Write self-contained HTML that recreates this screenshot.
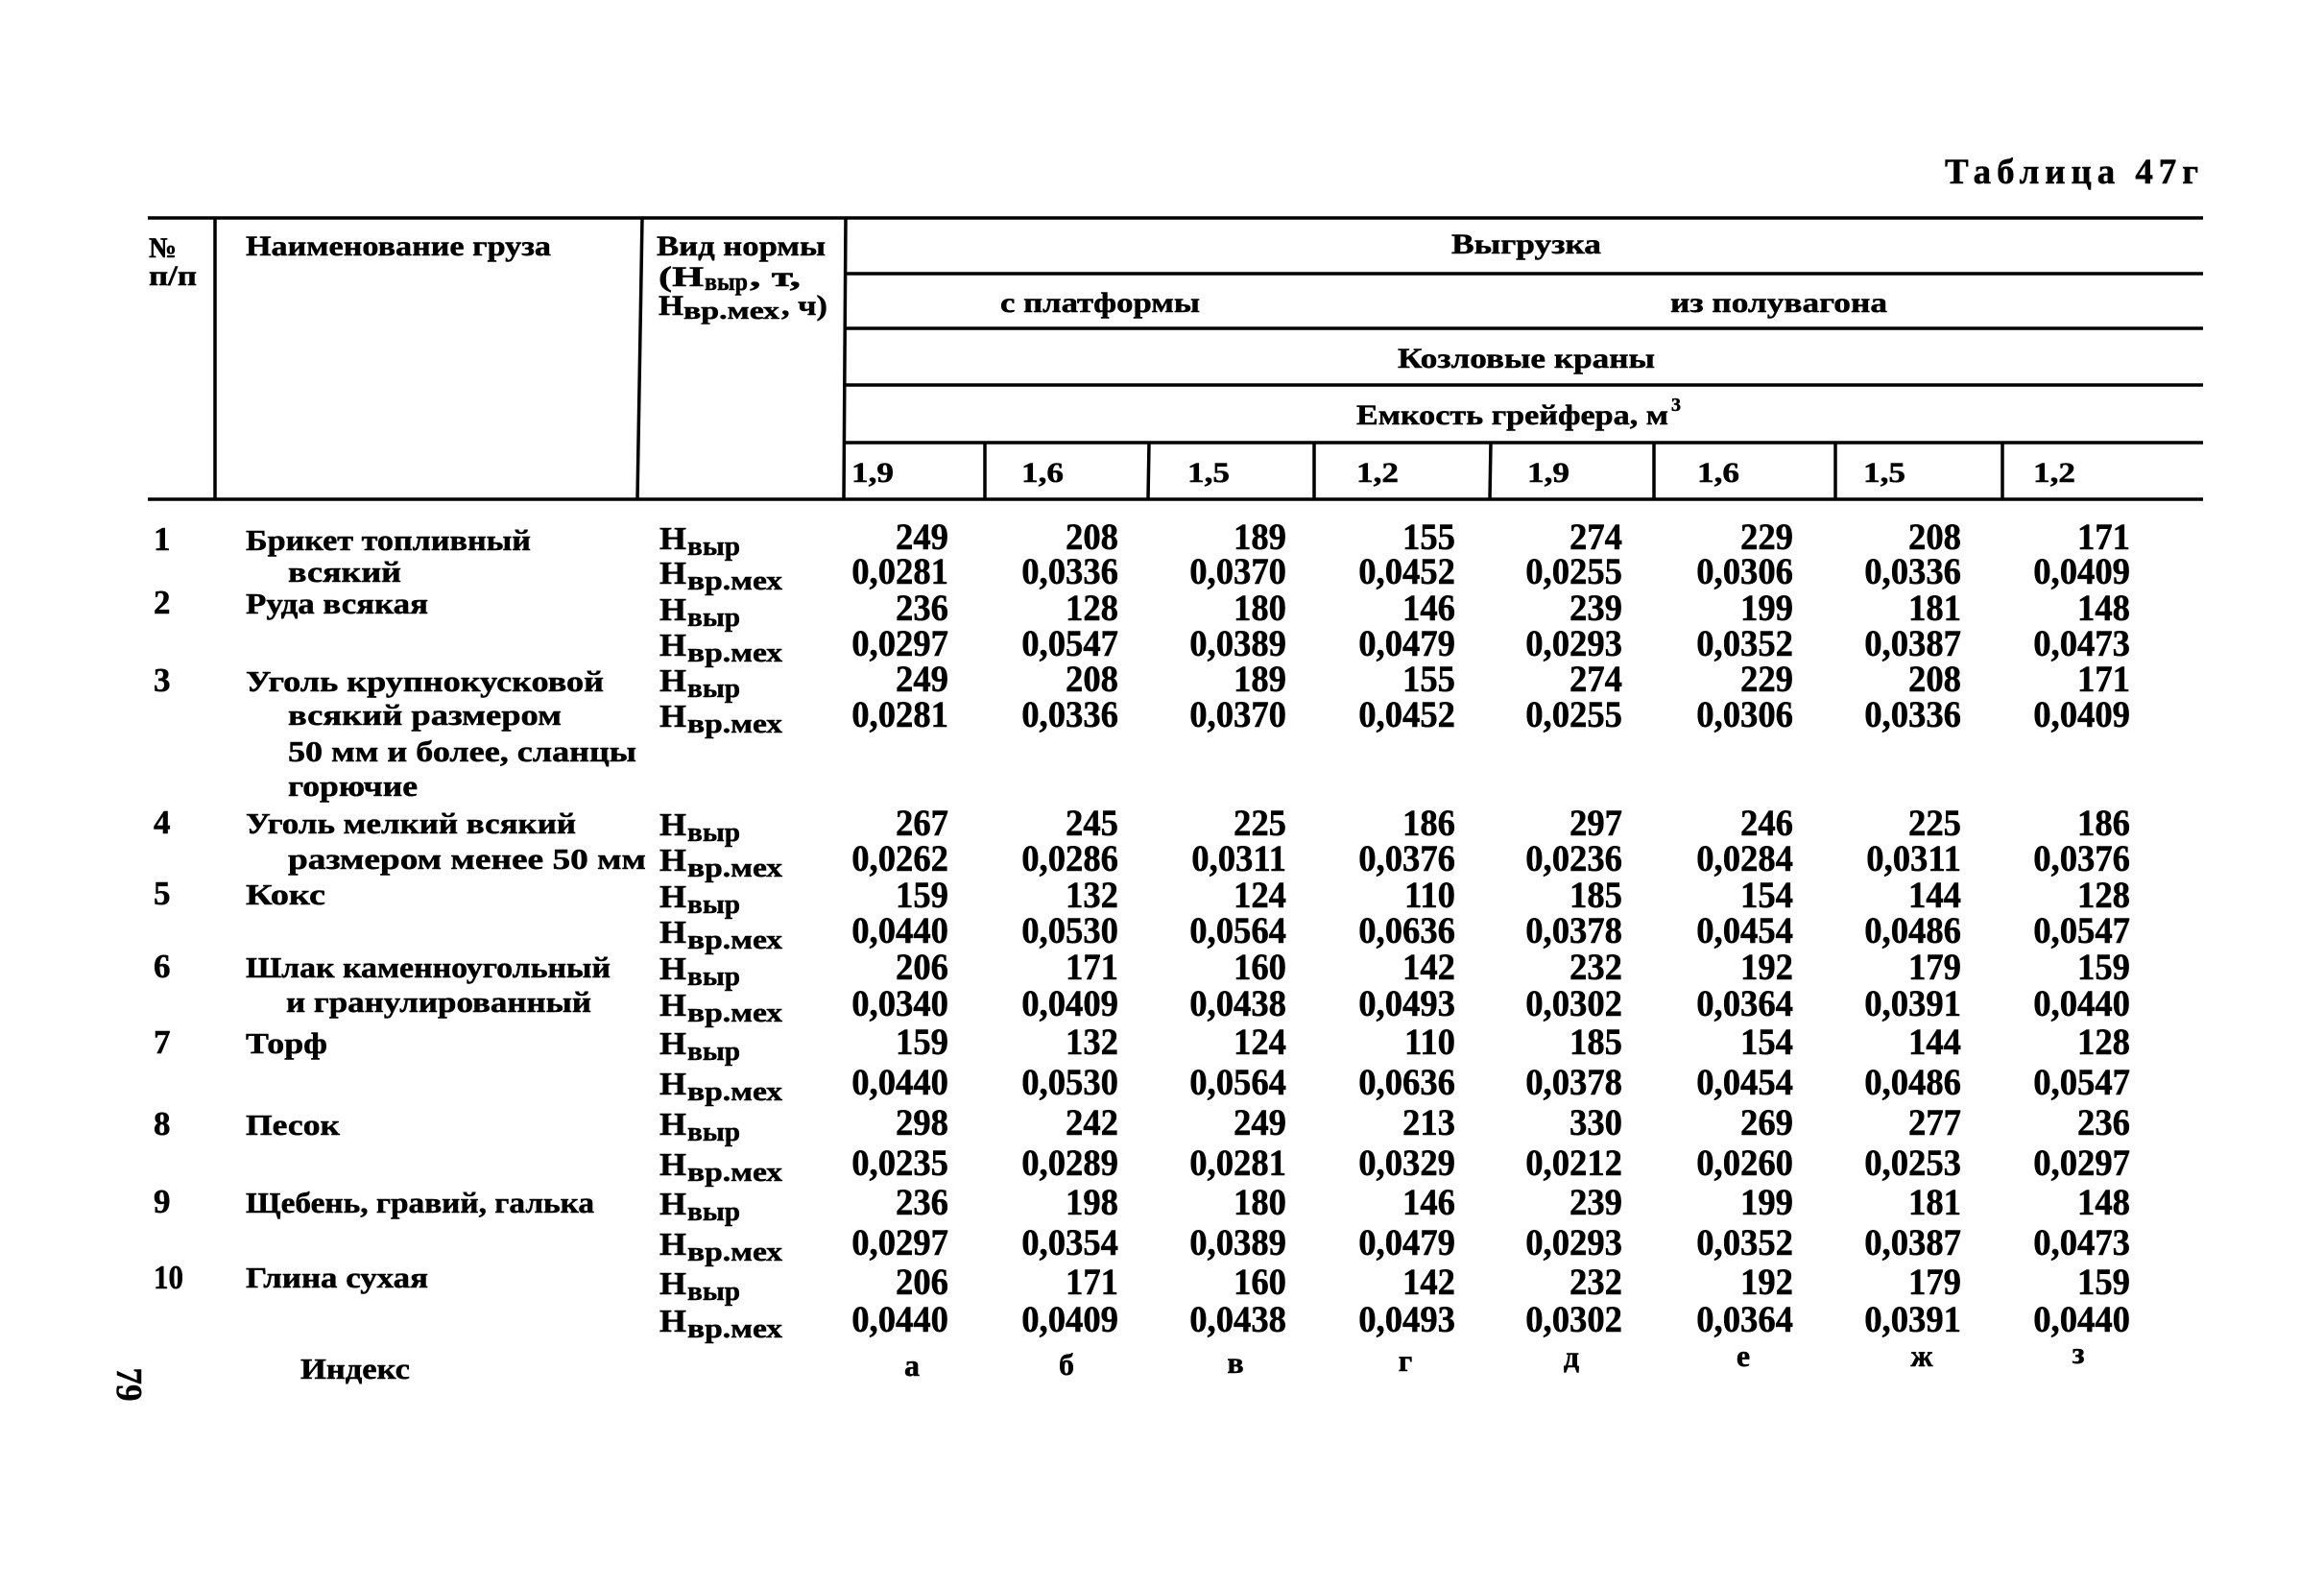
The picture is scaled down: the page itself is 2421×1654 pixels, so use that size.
<!DOCTYPE html>
<html>
<head>
<meta charset="utf-8">
<style>
  html,body{margin:0;padding:0;background:#fff;}
  svg{display:block;}
  text{font-family:"Liberation Serif","DejaVu Serif",serif;font-weight:bold;fill:#000;stroke:#000;stroke-width:0.5px;}
  .v{font-size:39px;text-anchor:end;}
  .n{font-size:31px;}
  .rn{font-size:35px;}
  .h{font-size:30px;}
  .H{font-size:34px;}
  .s{font-size:29px;}
  .ix{font-size:32px;text-anchor:middle;}
</style>
</head>
<body>
<svg width="2421" height="1654" viewBox="0 0 2421 1654" xmlns="http://www.w3.org/2000/svg">
<rect x="0" y="0" width="2421" height="1654" fill="#fff"/>

<!-- Title -->
<text x="2026" y="191" style="font-size:37px" textLength="264" lengthAdjust="spacing">Таблица 47г</text>

<!-- Lines -->
<g stroke="#000" stroke-width="3.5" fill="none">
  <line x1="154" y1="227" x2="2295" y2="227"/>
  <line x1="880" y1="285" x2="2295" y2="285"/>
  <line x1="880" y1="342" x2="2295" y2="342"/>
  <line x1="880" y1="401" x2="2295" y2="401"/>
  <line x1="880" y1="461" x2="2295" y2="461"/>
  <line x1="154" y1="520" x2="2295" y2="520"/>
  <line x1="224" y1="227" x2="224" y2="520"/>
  <line x1="669" y1="227" x2="664" y2="520"/>
  <line x1="881" y1="227" x2="879" y2="520"/>
  <line x1="1026" y1="461" x2="1026" y2="520"/>
  <line x1="1197" y1="461" x2="1196" y2="520"/>
  <line x1="1369" y1="461" x2="1369" y2="520"/>
  <line x1="1553" y1="461" x2="1552" y2="520"/>
  <line x1="1723" y1="461" x2="1723" y2="520"/>
  <line x1="1912" y1="461" x2="1912" y2="520"/>
  <line x1="2086" y1="461" x2="2086" y2="520"/>
</g>

<!-- Header left -->
<text class="h" x="155" y="268" textLength="29" lengthAdjust="spacingAndGlyphs">№</text>
<text class="h" x="155" y="297" textLength="50" lengthAdjust="spacingAndGlyphs">п/п</text>
<text class="h" x="256" y="266" textLength="318" lengthAdjust="spacingAndGlyphs">Наименование груза</text>
<text class="h" x="684" y="266" textLength="176" lengthAdjust="spacingAndGlyphs">Вид нормы</text>
<text class="h" x="686" y="298" textLength="47" lengthAdjust="spacingAndGlyphs">(Н</text>
<text class="s" x="734" y="302" style="font-size:26px" textLength="45" lengthAdjust="spacingAndGlyphs">выр</text>
<text class="h" x="781" y="298" textLength="53" lengthAdjust="spacingAndGlyphs">, т,</text>
<text class="h" x="686" y="328" textLength="26" lengthAdjust="spacingAndGlyphs">Н</text>
<text class="s" x="712" y="332" style="font-size:26px" textLength="100" lengthAdjust="spacingAndGlyphs">вр.мех</text>
<text class="h" x="814" y="328" textLength="48" lengthAdjust="spacingAndGlyphs">, ч)</text>

<!-- Header right -->
<text class="h" x="1512" y="264" textLength="156" lengthAdjust="spacingAndGlyphs">Выгрузка</text>
<text class="h" x="1042" y="325" textLength="208" lengthAdjust="spacingAndGlyphs">с платформы</text>
<text class="h" x="1740" y="325" textLength="226" lengthAdjust="spacingAndGlyphs">из полувагона</text>
<text class="h" x="1456" y="383" textLength="268" lengthAdjust="spacingAndGlyphs">Козловые краны</text>
<text class="h" x="1413" y="442" textLength="325" lengthAdjust="spacingAndGlyphs">Емкость грейфера, м</text>
<text x="1741" y="428" style="font-size:20px">3</text>

<g class="h">
  <text x="887" y="502" textLength="44" lengthAdjust="spacingAndGlyphs">1,9</text>
  <text x="1064" y="502" textLength="44" lengthAdjust="spacingAndGlyphs">1,6</text>
  <text x="1237" y="502" textLength="44" lengthAdjust="spacingAndGlyphs">1,5</text>
  <text x="1413" y="502" textLength="44" lengthAdjust="spacingAndGlyphs">1,2</text>
  <text x="1591" y="502" textLength="44" lengthAdjust="spacingAndGlyphs">1,9</text>
  <text x="1768" y="502" textLength="44" lengthAdjust="spacingAndGlyphs">1,6</text>
  <text x="1941" y="502" textLength="44" lengthAdjust="spacingAndGlyphs">1,5</text>
  <text x="2118" y="502" textLength="44" lengthAdjust="spacingAndGlyphs">1,2</text>
</g>

<!-- Row numbers -->
<g class="rn">
  <text x="160" y="573">1</text>
  <text x="160" y="639">2</text>
  <text x="160" y="720">3</text>
  <text x="160" y="868">4</text>
  <text x="160" y="942">5</text>
  <text x="160" y="1018">6</text>
  <text x="160" y="1097">7</text>
  <text x="160" y="1182">8</text>
  <text x="160" y="1263">9</text>
  <text x="160" y="1342" textLength="31" lengthAdjust="spacingAndGlyphs">10</text>
</g>

<!-- Names -->
<g class="n">
  <text x="256" y="573" textLength="297" lengthAdjust="spacingAndGlyphs">Брикет топливный</text>
  <text x="300" y="606" textLength="118" lengthAdjust="spacingAndGlyphs">всякий</text>
  <text x="256" y="639" textLength="190" lengthAdjust="spacingAndGlyphs">Руда всякая</text>
  <text x="256" y="720" textLength="373" lengthAdjust="spacingAndGlyphs">Уголь крупнокусковой</text>
  <text x="300" y="755" textLength="285" lengthAdjust="spacingAndGlyphs">всякий размером</text>
  <text x="300" y="793" textLength="363" lengthAdjust="spacingAndGlyphs">50 мм и более, сланцы</text>
  <text x="300" y="829" textLength="135" lengthAdjust="spacingAndGlyphs">горючие</text>
  <text x="256" y="868" textLength="344" lengthAdjust="spacingAndGlyphs">Уголь мелкий всякий</text>
  <text x="300" y="905" textLength="373" lengthAdjust="spacingAndGlyphs">размером менее 50 мм</text>
  <text x="256" y="942" textLength="83" lengthAdjust="spacingAndGlyphs">Кокс</text>
  <text x="256" y="1018" textLength="380" lengthAdjust="spacingAndGlyphs">Шлак каменноугольный</text>
  <text x="298" y="1054" textLength="318" lengthAdjust="spacingAndGlyphs">и гранулированный</text>
  <text x="256" y="1097" textLength="85" lengthAdjust="spacingAndGlyphs">Торф</text>
  <text x="256" y="1182" textLength="98" lengthAdjust="spacingAndGlyphs">Песок</text>
  <text x="256" y="1263" textLength="363" lengthAdjust="spacingAndGlyphs">Щебень, гравий, галька</text>
  <text x="256" y="1341" textLength="190" lengthAdjust="spacingAndGlyphs">Глина сухая</text>
  <text x="313" y="1436" textLength="114" lengthAdjust="spacingAndGlyphs">Индекс</text>
</g>

<!-- Норма labels -->
<g>
  <text class="H" x="687" y="572" textLength="28" lengthAdjust="spacingAndGlyphs">Н</text><text class="s" x="716" y="578" textLength="55" lengthAdjust="spacingAndGlyphs">выр</text>
  <text class="H" x="687" y="608" textLength="28" lengthAdjust="spacingAndGlyphs">Н</text><text class="s" x="716" y="614" textLength="99" lengthAdjust="spacingAndGlyphs">вр.мех</text>
  <text class="H" x="687" y="646" textLength="28" lengthAdjust="spacingAndGlyphs">Н</text><text class="s" x="716" y="652" textLength="55" lengthAdjust="spacingAndGlyphs">выр</text>
  <text class="H" x="687" y="683" textLength="28" lengthAdjust="spacingAndGlyphs">Н</text><text class="s" x="716" y="689" textLength="99" lengthAdjust="spacingAndGlyphs">вр.мех</text>
  <text class="H" x="687" y="720" textLength="28" lengthAdjust="spacingAndGlyphs">Н</text><text class="s" x="716" y="726" textLength="55" lengthAdjust="spacingAndGlyphs">выр</text>
  <text class="H" x="687" y="757" textLength="28" lengthAdjust="spacingAndGlyphs">Н</text><text class="s" x="716" y="763" textLength="99" lengthAdjust="spacingAndGlyphs">вр.мех</text>
  <text class="H" x="687" y="870" textLength="28" lengthAdjust="spacingAndGlyphs">Н</text><text class="s" x="716" y="876" textLength="55" lengthAdjust="spacingAndGlyphs">выр</text>
  <text class="H" x="687" y="907" textLength="28" lengthAdjust="spacingAndGlyphs">Н</text><text class="s" x="716" y="913" textLength="99" lengthAdjust="spacingAndGlyphs">вр.мех</text>
  <text class="H" x="687" y="945" textLength="28" lengthAdjust="spacingAndGlyphs">Н</text><text class="s" x="716" y="951" textLength="55" lengthAdjust="spacingAndGlyphs">выр</text>
  <text class="H" x="687" y="982" textLength="28" lengthAdjust="spacingAndGlyphs">Н</text><text class="s" x="716" y="988" textLength="99" lengthAdjust="spacingAndGlyphs">вр.мех</text>
  <text class="H" x="687" y="1020" textLength="28" lengthAdjust="spacingAndGlyphs">Н</text><text class="s" x="716" y="1026" textLength="55" lengthAdjust="spacingAndGlyphs">выр</text>
  <text class="H" x="687" y="1058" textLength="28" lengthAdjust="spacingAndGlyphs">Н</text><text class="s" x="716" y="1064" textLength="99" lengthAdjust="spacingAndGlyphs">вр.мех</text>
  <text class="H" x="687" y="1098" textLength="28" lengthAdjust="spacingAndGlyphs">Н</text><text class="s" x="716" y="1104" textLength="55" lengthAdjust="spacingAndGlyphs">выр</text>
  <text class="H" x="687" y="1140" textLength="28" lengthAdjust="spacingAndGlyphs">Н</text><text class="s" x="716" y="1146" textLength="99" lengthAdjust="spacingAndGlyphs">вр.мех</text>
  <text class="H" x="687" y="1182" textLength="28" lengthAdjust="spacingAndGlyphs">Н</text><text class="s" x="716" y="1188" textLength="55" lengthAdjust="spacingAndGlyphs">выр</text>
  <text class="H" x="687" y="1224" textLength="28" lengthAdjust="spacingAndGlyphs">Н</text><text class="s" x="716" y="1230" textLength="99" lengthAdjust="spacingAndGlyphs">вр.мех</text>
  <text class="H" x="687" y="1265" textLength="28" lengthAdjust="spacingAndGlyphs">Н</text><text class="s" x="716" y="1271" textLength="55" lengthAdjust="spacingAndGlyphs">выр</text>
  <text class="H" x="687" y="1307" textLength="28" lengthAdjust="spacingAndGlyphs">Н</text><text class="s" x="716" y="1313" textLength="99" lengthAdjust="spacingAndGlyphs">вр.мех</text>
  <text class="H" x="687" y="1348" textLength="28" lengthAdjust="spacingAndGlyphs">Н</text><text class="s" x="716" y="1354" textLength="55" lengthAdjust="spacingAndGlyphs">выр</text>
  <text class="H" x="687" y="1387" textLength="28" lengthAdjust="spacingAndGlyphs">Н</text><text class="s" x="716" y="1393" textLength="99" lengthAdjust="spacingAndGlyphs">вр.мех</text>
</g>

<!-- Values: column а -->
<g class="v" transform="translate(988 0) scale(0.94 1)">
  <text y="572">249</text><text y="608">0,0281</text>
  <text y="646">236</text><text y="683">0,0297</text>
  <text y="720">249</text><text y="757">0,0281</text>
  <text y="870">267</text><text y="907">0,0262</text>
  <text y="945">159</text><text y="982">0,0440</text>
  <text y="1020">206</text><text y="1058">0,0340</text>
  <text y="1098">159</text><text y="1140">0,0440</text>
  <text y="1182">298</text><text y="1224">0,0235</text>
  <text y="1265">236</text><text y="1307">0,0297</text>
  <text y="1348">206</text><text y="1387">0,0440</text>
</g>
<!-- б -->
<g class="v" transform="translate(1165 0) scale(0.94 1)">
  <text y="572">208</text><text y="608">0,0336</text>
  <text y="646">128</text><text y="683">0,0547</text>
  <text y="720">208</text><text y="757">0,0336</text>
  <text y="870">245</text><text y="907">0,0286</text>
  <text y="945">132</text><text y="982">0,0530</text>
  <text y="1020">171</text><text y="1058">0,0409</text>
  <text y="1098">132</text><text y="1140">0,0530</text>
  <text y="1182">242</text><text y="1224">0,0289</text>
  <text y="1265">198</text><text y="1307">0,0354</text>
  <text y="1348">171</text><text y="1387">0,0409</text>
</g>
<!-- в -->
<g class="v" transform="translate(1340 0) scale(0.94 1)">
  <text y="572">189</text><text y="608">0,0370</text>
  <text y="646">180</text><text y="683">0,0389</text>
  <text y="720">189</text><text y="757">0,0370</text>
  <text y="870">225</text><text y="907">0,0311</text>
  <text y="945">124</text><text y="982">0,0564</text>
  <text y="1020">160</text><text y="1058">0,0438</text>
  <text y="1098">124</text><text y="1140">0,0564</text>
  <text y="1182">249</text><text y="1224">0,0281</text>
  <text y="1265">180</text><text y="1307">0,0389</text>
  <text y="1348">160</text><text y="1387">0,0438</text>
</g>
<!-- г -->
<g class="v" transform="translate(1516 0) scale(0.94 1)">
  <text y="572">155</text><text y="608">0,0452</text>
  <text y="646">146</text><text y="683">0,0479</text>
  <text y="720">155</text><text y="757">0,0452</text>
  <text y="870">186</text><text y="907">0,0376</text>
  <text y="945">110</text><text y="982">0,0636</text>
  <text y="1020">142</text><text y="1058">0,0493</text>
  <text y="1098">110</text><text y="1140">0,0636</text>
  <text y="1182">213</text><text y="1224">0,0329</text>
  <text y="1265">146</text><text y="1307">0,0479</text>
  <text y="1348">142</text><text y="1387">0,0493</text>
</g>
<!-- д -->
<g class="v" transform="translate(1690 0) scale(0.94 1)">
  <text y="572">274</text><text y="608">0,0255</text>
  <text y="646">239</text><text y="683">0,0293</text>
  <text y="720">274</text><text y="757">0,0255</text>
  <text y="870">297</text><text y="907">0,0236</text>
  <text y="945">185</text><text y="982">0,0378</text>
  <text y="1020">232</text><text y="1058">0,0302</text>
  <text y="1098">185</text><text y="1140">0,0378</text>
  <text y="1182">330</text><text y="1224">0,0212</text>
  <text y="1265">239</text><text y="1307">0,0293</text>
  <text y="1348">232</text><text y="1387">0,0302</text>
</g>
<!-- е -->
<g class="v" transform="translate(1868 0) scale(0.94 1)">
  <text y="572">229</text><text y="608">0,0306</text>
  <text y="646">199</text><text y="683">0,0352</text>
  <text y="720">229</text><text y="757">0,0306</text>
  <text y="870">246</text><text y="907">0,0284</text>
  <text y="945">154</text><text y="982">0,0454</text>
  <text y="1020">192</text><text y="1058">0,0364</text>
  <text y="1098">154</text><text y="1140">0,0454</text>
  <text y="1182">269</text><text y="1224">0,0260</text>
  <text y="1265">199</text><text y="1307">0,0352</text>
  <text y="1348">192</text><text y="1387">0,0364</text>
</g>
<!-- ж -->
<g class="v" transform="translate(2043 0) scale(0.94 1)">
  <text y="572">208</text><text y="608">0,0336</text>
  <text y="646">181</text><text y="683">0,0387</text>
  <text y="720">208</text><text y="757">0,0336</text>
  <text y="870">225</text><text y="907">0,0311</text>
  <text y="945">144</text><text y="982">0,0486</text>
  <text y="1020">179</text><text y="1058">0,0391</text>
  <text y="1098">144</text><text y="1140">0,0486</text>
  <text y="1182">277</text><text y="1224">0,0253</text>
  <text y="1265">181</text><text y="1307">0,0387</text>
  <text y="1348">179</text><text y="1387">0,0391</text>
</g>
<!-- з -->
<g class="v" transform="translate(2219 0) scale(0.94 1)">
  <text y="572">171</text><text y="608">0,0409</text>
  <text y="646">148</text><text y="683">0,0473</text>
  <text y="720">171</text><text y="757">0,0409</text>
  <text y="870">186</text><text y="907">0,0376</text>
  <text y="945">128</text><text y="982">0,0547</text>
  <text y="1020">159</text><text y="1058">0,0440</text>
  <text y="1098">128</text><text y="1140">0,0547</text>
  <text y="1182">236</text><text y="1224">0,0297</text>
  <text y="1265">148</text><text y="1307">0,0473</text>
  <text y="1348">159</text><text y="1387">0,0440</text>
</g>

<!-- Index letters -->
<g class="ix">
  <text x="950" y="1433">а</text>
  <text x="1111" y="1432">б</text>
  <text x="1287" y="1430">в</text>
  <text x="1464" y="1428">г</text>
  <text x="1637" y="1424">д</text>
  <text x="1816" y="1423">е</text>
  <text x="2002" y="1423">ж</text>
  <text x="2165" y="1420">з</text>
</g>

<!-- Page number (rotated) -->
<text x="122" y="1442" transform="rotate(90 122 1442)" text-anchor="middle" style="font-size:38px" textLength="35" lengthAdjust="spacingAndGlyphs">79</text>

</svg>
</body>
</html>
